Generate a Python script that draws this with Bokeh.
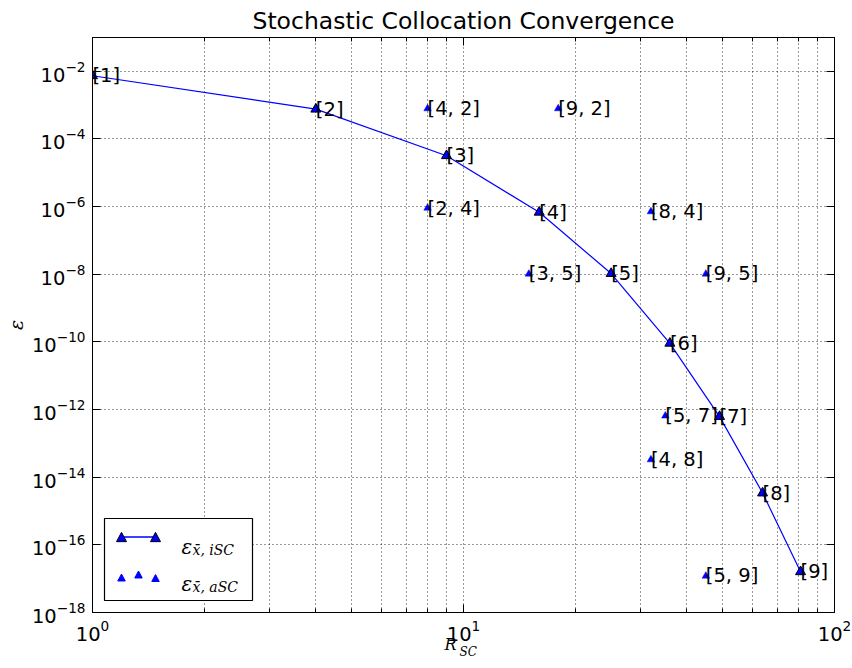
from bokeh.plotting import figure
from bokeh.models import FixedTicker, LogAxis, BoxAnnotation, PolyAnnotation, Label
from bokeh.core.properties import value
from bokeh.embed import file_html
from bokeh.resources import INLINE

# interpolated stochastic collocation: one entry per level
isc_labels = ["[1]", "[2]", "[3]", "[4]", "[5]", "[6]", "[7]", "[8]", "[9]"]
isc_points = [1, 4, 9, 16, 25, 36, 49, 64, 81]
isc_error = [7.4e-3, 7.6e-4, 3.2e-5, 6.8e-7, 1.05e-8, 9.1e-11, 6.2e-13, 3.4e-15, 1.6e-17]

# anisotropic stochastic collocation: one entry per level pair
asc_labels = ["[4, 2]", "[9, 2]", "[2, 4]", "[8, 4]", "[3, 5]", "[9, 5]", "[5, 7]", "[4, 8]", "[5, 9]"]
asc_points = [8, 18, 8, 32, 15, 45, 35, 32, 45]
asc_error = [7.9e-4, 7.9e-4, 9.1e-7, 7.1e-7, 1.02e-8, 1.02e-8, 6.5e-13, 3.3e-14, 1.2e-17]

x_major = [1, 10, 100]
x_minor = [2, 3, 4, 5, 6, 7, 8, 9, 20, 30, 40, 50, 60, 70, 80, 90]
y_major = [10.0 ** e for e in range(-18, -1, 2)]

TEXT_FONT = "DejaVu Sans"
MATH_FONT = "DejaVu Serif"

# frame placement inside the 852 x 668 canvas
FRAME_LEFT, FRAME_RIGHT, FRAME_TOP, FRAME_BOTTOM = 92, 834, 37, 612

p = figure(
    width=852, height=668,
    x_axis_type="log", y_axis_type="log",
    x_range=(1, 100), y_range=(1e-18, 1e-1),
    title="Stochastic Collocation Convergence",
    output_backend="svg", toolbar_location=None,
    min_border_left=FRAME_LEFT, min_border_right=852 - FRAME_RIGHT,
    min_border_top=FRAME_TOP, min_border_bottom=668 - FRAME_BOTTOM,
)
p.background_fill_color = "white"
p.border_fill_color = "white"
p.outline_line_color = "black"
p.outline_line_width = 1

p.title.text_font = TEXT_FONT
p.title.text_font_size = "23.5px"
p.title.text_font_style = "normal"
p.title.text_color = "black"
p.title.align = "center"
p.title.standoff = 6

x_ticker = FixedTicker(ticks=x_major, minor_ticks=x_minor)
y_ticker = FixedTicker(ticks=y_major, minor_ticks=[])


def style_axis(ax, ticker, show_labels=True):
    ax.ticker = ticker
    ax.axis_line_color = "black"
    ax.axis_line_width = 1
    ax.major_tick_line_color = "black"
    ax.minor_tick_line_color = "black"
    ax.major_tick_in = 8
    ax.major_tick_out = 0
    ax.minor_tick_in = 4
    ax.minor_tick_out = 0
    ax.major_label_text_font = TEXT_FONT
    ax.major_label_text_color = "black"
    if show_labels:
        ax.major_label_text_font_size = "19.5px"
        ax.major_label_standoff = 7
    else:
        ax.major_label_text_font_size = "1px"
        ax.major_label_text_alpha = 0
        ax.major_label_standoff = 0


style_axis(p.xaxis[0], x_ticker)
style_axis(p.yaxis[0], y_ticker)

top_axis = LogAxis()
right_axis = LogAxis()
style_axis(top_axis, x_ticker, show_labels=False)
style_axis(right_axis, y_ticker, show_labels=False)
p.add_layout(top_axis, "above")
p.add_layout(right_axis, "right")

p.yaxis[0].axis_label = "ε"
p.yaxis[0].axis_label_text_font = MATH_FONT
p.yaxis[0].axis_label_text_font_style = "italic"
p.yaxis[0].axis_label_text_font_size = "19px"
p.yaxis[0].axis_label_text_color = "black"
p.yaxis[0].axis_label_standoff = 2

for g in (p.xgrid[0], p.ygrid[0]):
    g.grid_line_color = "black"
    g.grid_line_dash = "1 3"
    g.grid_line_alpha = 0.8
    g.grid_line_width = 1
p.xgrid[0].ticker = x_ticker
p.ygrid[0].ticker = y_ticker
p.xgrid[0].minor_grid_line_color = "black"
p.xgrid[0].minor_grid_line_dash = "1 3"
p.xgrid[0].minor_grid_line_alpha = 0.8

# iSC curve with markers
p.line(isc_points, isc_error, line_color="blue", line_width=1.2)
p.scatter(isc_points, isc_error, marker="triangle", size=10,
          fill_color="blue", line_color="black", line_width=1)
# aSC points
p.scatter(asc_points, asc_error, marker="triangle", size=7.5,
          fill_color="blue", line_color="blue", line_width=0.5)

# point annotations
for xs, ys, ts in ((isc_points, isc_error, isc_labels), (asc_points, asc_error, asc_labels)):
    p.text(xs, ys, text=ts, text_font=value(TEXT_FONT), text_font_size="19.5px",
           text_color="black", text_align="left", text_baseline="alphabetic")


# ---- legend, positioned in canvas pixels (top-left origin) ----
def sx(px):
    return px - FRAME_LEFT


def sy(py):
    return FRAME_BOTTOM - py


p.add_layout(BoxAnnotation(
    left=sx(104), right=sx(252), top=sy(518), bottom=sy(600),
    left_units="screen", right_units="screen", top_units="screen", bottom_units="screen",
    fill_color="white", fill_alpha=1, line_color="black", line_width=1.2, line_alpha=1,
))


def tri(cx, cy, w, fill, edge):
    h = w * 0.93
    return PolyAnnotation(
        xs=[sx(cx - w / 2), sx(cx + w / 2), sx(cx)],
        ys=[sy(cy + h / 2), sy(cy + h / 2), sy(cy - h / 2)],
        xs_units="screen", ys_units="screen",
        fill_color=fill, fill_alpha=1, line_color=edge, line_width=1, line_alpha=1,
    )


p.add_layout(PolyAnnotation(
    xs=[sx(121), sx(155), sx(155), sx(121)],
    ys=[sy(536), sy(536), sy(537), sy(537)],
    xs_units="screen", ys_units="screen",
    fill_color="blue", fill_alpha=1, line_color="blue", line_width=0.5, line_alpha=1,
))
p.add_layout(tri(121, 536.5, 10, "blue", "black"))
p.add_layout(tri(155, 536.5, 10, "blue", "black"))
p.add_layout(tri(121, 577, 7.5, "blue", "blue"))
p.add_layout(tri(138, 574, 7.5, "blue", "blue"))
p.add_layout(tri(155, 577.5, 7.5, "blue", "blue"))


def math_label(x, y, text, size):
    return Label(x=x, y=y, x_units="screen", y_units="screen", text=text,
                 text_font=MATH_FONT, text_font_style="italic", text_font_size=size,
                 text_color="black", text_align="left", text_baseline="alphabetic")


p.add_layout(math_label(sx(181), sy(546), "ε", "20px"))
p.add_layout(math_label(sx(192), sy(549.5), "x\u0304, iSC", "14px"))
p.add_layout(math_label(sx(181), sy(583), "ε", "20px"))
p.add_layout(math_label(sx(192), sy(586.5), "x\u0304, aSC", "14px"))

# x axis label R_SC: the two parts live in side panels so they are not clipped
# by the frame; the "R" panel sits right of the right axis, the "SC" one below.
RIGHT_PANEL_LEFT = FRAME_RIGHT + 3
p.add_layout(math_label(447 - RIGHT_PANEL_LEFT, sy(644), "R", "16px"), "right")
p.add_layout(math_label(sx(459), 6, "SC", "12px"), "below")

open("out.html", "w").write(file_html(p, INLINE))
